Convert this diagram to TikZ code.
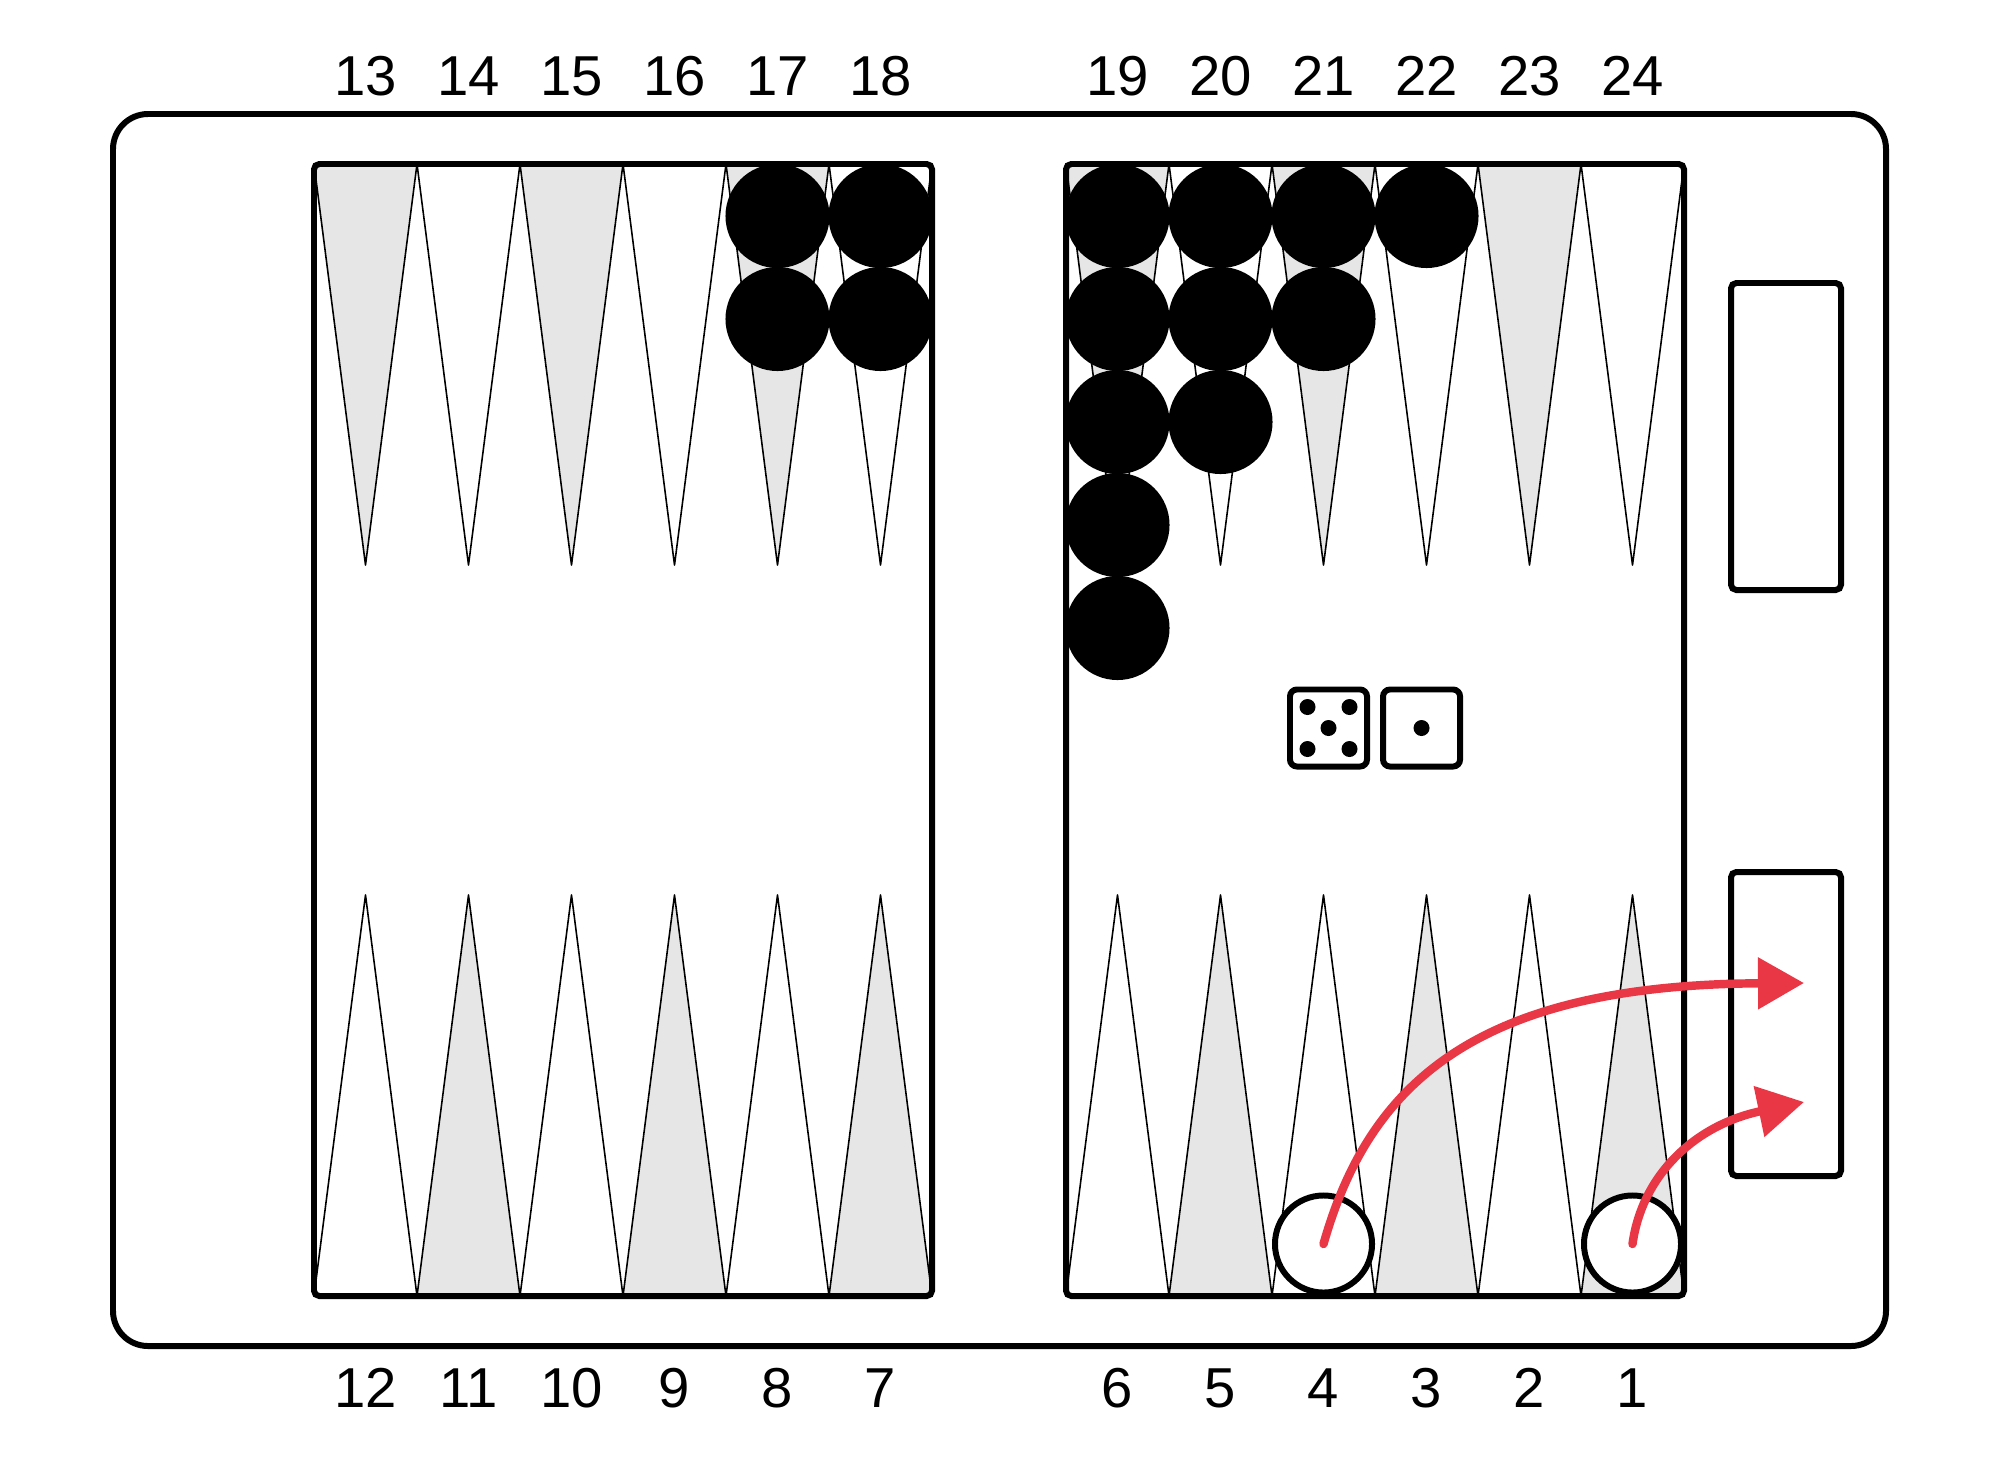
\documentclass[tikz,border=0pt]{standalone}
\usepackage{fontspec}
\setmainfont{Liberation Sans}
\definecolor{PointGray}{RGB}{230, 230, 230}
\definecolor{MoveRed}{RGB}{234, 55, 70}
\usetikzlibrary{arrows.meta, positioning}

\begin{document}
\begin{tikzpicture}[x=0.01cm, y=-0.01cm,
    every node/.style={font=\fontsize{16}{19}\selectfont},
    frame/.style={draw, line width=1.7pt, rounded corners=3.5mm},
    half/.style={draw, line width=1.7pt, rounded corners=1.5pt},
    tray/.style={draw, line width=1.7pt, rounded corners=1.5pt},
    point/.style={draw, line width=0.45pt, line join=round},
    blackchk/.style={circle, fill=black, minimum size=1.04cm, inner sep=0pt},
    whitechk/.style={circle, draw, fill=white, line width=1.7pt, minimum size=0.97cm, inner sep=0pt},
    die/.style={draw, line width=1.7pt, rounded corners=0.7mm, minimum size=0.77cm, inner sep=0pt},
    pip/.style={fill=black},
    move/.style={draw=MoveRed, line width=2.4pt, line cap=round, -{Triangle[length=4.6mm, width=5mm]}}]
\useasboundingbox (0,0) rectangle (2000,1463);

\draw[frame] (113,114) rectangle (1886,1346);

\foreach \bx in {314,1066}
  \foreach \i/\tc/\bc in {0/PointGray/white, 1/white/PointGray, 2/PointGray/white, 3/white/PointGray, 4/PointGray/white, 5/white/PointGray}{
    \filldraw[point, fill=\tc] (\bx+103*\i,164) -- (\bx+103*\i+51.5,565) -- (\bx+103*\i+103,164) -- cycle;
    \filldraw[point, fill=\bc] (\bx+103*\i,1296) -- (\bx+103*\i+51.5,895) -- (\bx+103*\i+103,1296) -- cycle;
  }

\foreach \px/\n in {777.5/2, 880.5/2, 1117.5/5, 1220.5/3, 1323.5/2, 1426.5/1}
  \foreach \k in {1,...,\n}
    \node[blackchk] (b\px-\k) at (\px,113+103*\k) {};

\node[whitechk] (w4) at (1323.5,1244) {};
\node[whitechk] (w1) at (1632.5,1244) {};

\draw[half] (314,164) rectangle (932,1296);
\draw[half] (1066,164) rectangle (1684,1296);
\draw[tray] (1731,283) rectangle (1841,590);
\draw[tray] (1731,872) rectangle (1841,1176);

\node[die] (die5) at (1328.5,728) {};
\node[die, right=0.1cm of die5] (die1) {};
\foreach \dx/\dy in {-21/-21, 21/-21, 0/0, -21/21, 21/21}
  \fill[pip] ([shift={(\dx,\dy)}]die5.center) circle[radius=0.8mm];
\fill[pip] (die1.center) circle[radius=0.8mm];

\foreach \n [count=\k from 0] in {13,...,18}
  \node (top\n) at (365.5+103*\k,76) {\n};
\foreach \n [count=\k from 0] in {19,...,24}
  \node (top\n) at (1117.5+103*\k,76) {\n};
\foreach \n [count=\k from 0] in {12,11,10,9,8,7}
  \node (bot\n) at (365.5+103*\k,1388) {\n};
\foreach \n [count=\k from 0] in {6,5,4,3,2,1}
  \node (bot\n) at (1117.5+103*\k,1388) {\n};

\coordinate (off1) at (1804,983);
\coordinate (off2) at (1804,1102);
\draw[move] (w4.center) .. controls (1370,1080) and (1480,985) .. (off1);
\draw[move] (w1.center) .. controls (1642,1175) and (1695,1125) .. (off2);
\end{tikzpicture}
\end{document}
